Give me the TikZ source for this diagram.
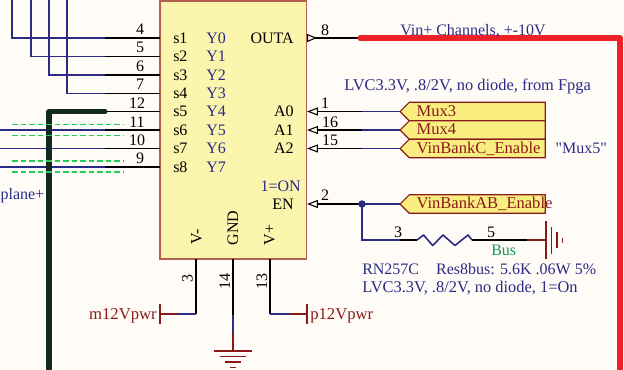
\documentclass[tikz,border=0pt]{standalone}
\usepackage{fontspec}
\setmainfont{Liberation Serif}
\newfontfamily\plainfont{Liberation Serif}
\usetikzlibrary{positioning,arrows.meta,shapes.symbols}
\definecolor{netblue}{HTML}{2B2B85}
\definecolor{pwrred}{HTML}{8A1A1A}
\definecolor{railred}{HTML}{EE2028}
\definecolor{chipfill}{HTML}{FBF5AE}
\definecolor{chipline}{HTML}{B5604F}
\definecolor{portfill}{HTML}{FAEE80}
\definecolor{busdark}{HTML}{12291F}
\definecolor{sheet}{HTML}{FFFCF8}
\definecolor{busgreen}{HTML}{119955}
\definecolor{dashgreen}{HTML}{22CC55}

\begin{document}
\begin{tikzpicture}[x=.75pt,y=-.75pt,font=\fontsize{12}{14}\selectfont]
\tikzstyle{chip}=[draw=chipline,fill=chipfill,line width=.9pt,rectangle,minimum width=110pt,minimum height=193.5pt,inner sep=0]
\tikzstyle{port}=[draw=pwrred,fill=portfill,line width=.8pt,signal,signal to=west,signal from=nowhere,signal pointer angle=90,minimum height=13.875pt,text width=91pt,align=left,inner xsep=5.5pt,inner ysep=0,outer sep=0,text height=9.6pt,text depth=2.4pt,text=pwrred,anchor=west,font=\fontsize{12.4}{14}\selectfont]
\tikzstyle{lbl}=[inner sep=0,anchor=base west]
\tikzstyle{lble}=[inner sep=0,anchor=base east]
\tikzstyle{num}=[inner sep=0,anchor=base]
\tikzstyle{vert}=[inner sep=0,anchor=base,rotate=90]
\tikzstyle{pin}=[black,line width=1.1pt]
\tikzstyle{net}=[netblue,line width=1.2pt]
\tikzstyle{pwr}=[pwrred,line width=1.2pt]
\tikzstyle{hint}=[dashgreen,line width=.9pt,dash pattern=on 4.2pt off 2.2pt]
\tikzstyle{inhead}=[{Triangle[open,length=8.2pt,width=6pt,line width=.8pt]}-]
\tikzstyle{outhead}=[{Triangle[open,reversed,length=7.5pt,width=6pt,line width=.8pt]}-]
\useasboundingbox[fill=sheet] (0,0) rectangle (624,369);

\node[chip] (mux) at (233.25,130) {};

\coordinate (s1) at (160,38);
\coordinate (s2) at (160,56.5);
\coordinate (s3) at (160,75);
\coordinate (s4) at (160,93.5);
\coordinate (s5) at (160,111.5);
\coordinate (s6) at (160,130);
\coordinate (s7) at (160,148.5);
\coordinate (s8) at (160,167);
\coordinate (j1) at (105,38);
\coordinate (j2) at (105,56.5);
\coordinate (j3) at (105,75);
\coordinate (j4) at (105,93.5);
\coordinate (j5) at (105,111.5);
\coordinate (j6) at (105,130);
\coordinate (j7) at (105,148.5);
\coordinate (j8) at (105,167);
\coordinate (t1) at (12,0);
\coordinate (t2) at (31,0);
\coordinate (t3) at (49,0);
\coordinate (t4) at (67,0);
\coordinate (e6) at (0,130);
\coordinate (e7) at (0,148.5);
\coordinate (e8) at (0,167);
\coordinate (bot) at (49,369);

\draw[net] (t1) |- (j1);
\draw[net] (t2) |- (j2);
\draw[net] (t3) |- (j3);
\draw[net] (t4) |- (j4);
\draw[net] (e6) -- (j6);
\draw[net] (e7) -- (j7);
\draw[net] (e8) -- (j8);
\draw[pin] (j1) -- (s1);
\draw[pin] (j2) -- (s2);
\draw[pin] (j3) -- (s3);
\draw[pin] (j4) -- (s4);
\draw[pin] (j5) -- (s5);
\draw[pin] (j6) -- (s6);
\draw[pin] (j7) -- (s7);
\draw[pin] (j8) -- (s8);
\draw[busdark,line width=3.8pt,line cap=round,line join=round] (bot) |- (j5);

\coordinate (g1) at (12,124.5);
\coordinate (g2) at (123,124.5);
\coordinate (g3) at (12,135.5);
\coordinate (g4) at (123,135.5);
\coordinate (g5) at (12,161);
\coordinate (g6) at (123,161);
\coordinate (g7) at (12,172);
\coordinate (g8) at (123,172);
\draw[hint] (g1) -- (g2);
\draw[hint] (g3) -- (g4);
\draw[hint] (g5) -- (g6);
\draw[hint] (g7) -- (g8);

\node[lbl] (ls1) at (173,43) {s1};
\node[lbl] (ls2) at (173,61.5) {s2};
\node[lbl] (ls3) at (173,80) {s3};
\node[lbl] (ls4) at (173,98.5) {s4};
\node[lbl] (ls5) at (173,116.5) {s5};
\node[lbl] (ls6) at (173,135) {s6};
\node[lbl] (ls7) at (173,153.5) {s7};
\node[lbl] (ls8) at (173,172) {s8};
\node[lbl,text=netblue] (y0) at (206,43) {Y0};
\node[lbl,text=netblue] (y1) at (206,61.5) {Y1};
\node[lbl,text=netblue] (y2) at (206,80) {Y2};
\node[lbl,text=netblue] (y3) at (206,98.5) {Y3};
\node[lbl,text=netblue] (y4) at (206,116.5) {Y4};
\node[lbl,text=netblue] (y5) at (206,135) {Y5};
\node[lbl,text=netblue] (y6) at (206,153.5) {Y6};
\node[lbl,text=netblue] (y7) at (206,172) {Y7};
\node[num] (n4) at (140,34) {4};
\node[num] (n5) at (140,52.5) {5};
\node[num] (n6) at (140,71) {6};
\node[num] (n7) at (140,89.5) {7};
\node[num] (n12) at (137,108) {12};
\node[num] (n11) at (137,127) {11};
\node[num] (n10) at (137,145) {10};
\node[num] (n9) at (140,163.5) {9};
\node[lble,text=netblue] (back) at (44.5,199) {plane+};

\node[lble] (outa) at (294,43) {OUTA};
\node[lble] (a0) at (294,116.5) {A0};
\node[lble] (a1) at (294,135) {A1};
\node[lble] (a2) at (294,153.5) {A2};
\node[lble,text=netblue] (on) at (301,191) {1=ON};
\node[lble] (en) at (294,209) {EN};
\node[vert] (vm) at (201.5,237) {V-};
\node[vert] (gnd) at (238,228) {GND};
\node[vert] (vp) at (274.5,235) {V+};

\coordinate (pouta) at (307,38);
\coordinate (joutb) at (360,38);
\coordinate (corner) at (620,38);
\coordinate (rail) at (620,369);
\draw[outhead,pin] (pouta) -- (joutb);
\draw[railred,line width=3.8pt,line cap=round,line join=round] (joutb) -- (corner) -- (rail);
\node[num] (n8) at (325,35) {8};
\node[lbl,text=netblue] (vin) at (400,35) {Vin+ Channels, +-10V};
\node[lbl,text=netblue,font=\fontsize{12.3}{14}\selectfont] (lvca) at (344,90) {LVC3.3V, .8/2V, no diode, from Fpga};

\node[port] (mux3) at (400,111.5) {Mux3};
\node[port,below = 0pt of mux3] (mux4) {Mux4};
\node[port,below = 0pt of mux4] (vinc) {VinBankC\_Enable};
\node[port] (vinab) at (400,204) {VinBankAB\_Enable};
\node[inner sep=0,text=netblue,right = 7.5pt of vinc] (mux5) {\plainfont "Mux5"};

\coordinate (pa0) at (307,111.5);
\coordinate (pa1) at (307,130);
\coordinate (pa2) at (307,148.5);
\coordinate (pen) at (307,204);
\coordinate (ja0) at (362,111.5);
\coordinate (ja1) at (362,130);
\coordinate (ja2) at (362,148.5);
\coordinate (jen) at (362,204);
\draw[inhead,pin] (pa0) -- (ja0);
\draw[inhead,pin] (pa1) -- (ja1);
\draw[inhead,pin] (pa2) -- (ja2);
\draw[inhead,pin] (pen) -- (jen);
\draw[net] (ja0) -- (mux3.west);
\draw[net] (ja1) -- (mux4.west);
\draw[net] (ja2) -- (vinc.west);
\draw[net] (jen) -- (vinab.west);
\fill[netblue] (jen) circle (2.8pt);
\node[num] (n1) at (325,108) {1};
\node[num] (n16) at (330,127) {16};
\node[num] (n15) at (330,145) {15};
\node[num] (n2) at (325,200) {2};

\coordinate (rbl) at (400,240);
\coordinate (resl) at (417,240);
\coordinate (resr) at (472,240);
\coordinate (rgn) at (527,240);
\coordinate (gndr) at (546,240);
\draw[net] (jen) |- (rbl);
\draw[pin] (rbl) -- (resl);
\draw[net,line join=round] (resl) -- (423.5,235) -- (432.7,245.5) -- (443,235) -- (455,245.5) -- (468,235) -- (resr);
\draw[pin] (resr) -- (rgn);
\draw[pwr] (rgn) -- (gndr);
\draw[pwr] (546,221) -- (546,259);
\draw[pwr] (551.5,227) -- (551.5,254);
\draw[pwr] (557,232) -- (557,248);
\draw[pwr] (562.5,238) -- (562.5,243);
\node[num] (n3b) at (398,237) {3};
\node[num] (n5b) at (491,237) {5};
\node[lbl,text=busgreen] (bus) at (491,255) {Bus};
\node[lbl,text=netblue] (rn) at (362,274) {RN257C\hspace{12.7pt}Res8bus: 5.6K .06W 5\%};
\node[lbl,text=netblue,font=\fontsize{12.3}{14}\selectfont] (lvcb) at (362,292) {LVC3.3V, .8/2V, no diode, 1=On};

\coordinate (pvm) at (196,259);
\coordinate (pgnd) at (233,259);
\coordinate (pvp) at (270,259);
\coordinate (cvm) at (196,314);
\coordinate (cvp) at (270,314);
\coordinate (jvm) at (178,314);
\coordinate (jvp) at (289,314);
\coordinate (tvm) at (160,314);
\coordinate (tvp) at (307,314);
\coordinate (jg1) at (233,315);
\coordinate (jg2) at (233,333);
\coordinate (tg) at (233,351);
\draw[pin] (pvm) -- (cvm);
\draw[pin] (pgnd) -- (jg1);
\draw[pin] (pvp) -- (cvp);
\draw[net] (cvm) -- (jvm);
\draw[net] (cvp) -- (jvp);
\draw[net] (jg1) -- (jg2);
\draw[pwr] (jvm) -- (tvm);
\draw[pwr] (jvp) -- (tvp);
\draw[pwr] (jg2) -- (tg);
\draw[pwr] (tvm) ++(0,-10) -- ++(0,20);
\draw[pwr] (tvp) ++(0,-10) -- ++(0,20);
\draw[pwr] (214,351) -- (252,351);
\draw[pwr] (220,356.5) -- (246,356.5);
\draw[pwr] (225,362) -- (241,362);
\draw[pwr] (230,367.5) -- (236,367.5);
\node[vert] (n3) at (192.5,278) {3};
\node[vert] (n14) at (230,281) {14};
\node[vert] (n13) at (267,281) {13};
\node[lble,text=pwrred,font=\fontsize{12.5}{14}\selectfont] (m12) at (157,319) {m12Vpwr};
\node[lbl,text=pwrred,font=\fontsize{12.5}{14}\selectfont] (p12) at (310,319) {p12Vpwr};
\end{tikzpicture}
\end{document}
